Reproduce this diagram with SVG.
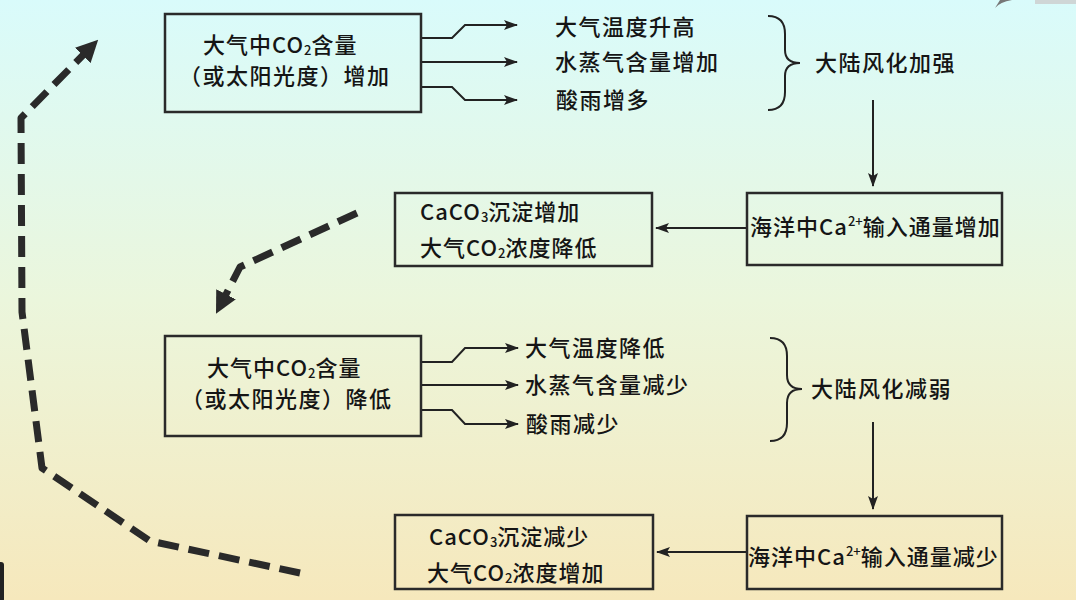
<svg xmlns="http://www.w3.org/2000/svg" width="1076" height="600" viewBox="0 0 1076 600">
<defs>
<linearGradient id="bg" x1="0" y1="0" x2="0" y2="1">
<stop offset="0" stop-color="#d9fbfb"/>
<stop offset="0.5" stop-color="#ebf6dc"/>
<stop offset="1" stop-color="#f6e8bc"/>
</linearGradient>
<marker id="ah" viewBox="0 0 14 10" refX="13" refY="5" markerWidth="14" markerHeight="10" markerUnits="userSpaceOnUse" orient="auto">
<path d="M0,0 L14,5 L0,10 L3,5 Z" fill="#222"/>
</marker>
<marker id="dh" viewBox="0 0 10 10" refX="6" refY="5" markerWidth="22" markerHeight="22" markerUnits="userSpaceOnUse" orient="auto">
<path d="M0,0 L10,5 L0,10 Z" fill="#2a2a2a"/>
</marker>
</defs>
<style>
.box{fill:none;stroke:#2a2a2a;stroke-width:2.5}
.ln{fill:none;stroke:#222;stroke-width:2}
.dash{fill:none;stroke:#2a2a2a;stroke-width:7;stroke-dasharray:21 10;stroke-linejoin:round}
.t{font-family:"Noto Sans CJK SC","Noto Sans",sans-serif;font-size:22px;font-weight:500;fill:#151515;letter-spacing:1.5px}
.m{letter-spacing:1px}
.sb{font-size:13px;letter-spacing:0}
</style>
<rect width="1076" height="600" fill="url(#bg)"/>
<path d="M995,8 Q1000,2 1012,0 L1000,0 Z" fill="#777"/>
<rect x="1035" y="0" width="41" height="4" fill="#cfd6d6"/>
<rect x="-4" y="562" width="8" height="40" rx="3" fill="#222"/>

<g id="connectors">
<path class="ln" d="M421,38 L452,38 L465,25 L517,25" marker-end="url(#ah)"/>
<path class="ln" d="M421,62 L517,62" marker-end="url(#ah)"/>
<path class="ln" d="M421,87 L452,87 L465,100 L517,100" marker-end="url(#ah)"/>
<path class="ln" d="M421,362 L452,362 L465,348 L518,348" marker-end="url(#ah)"/>
<path class="ln" d="M421,385 L518,385" marker-end="url(#ah)"/>
<path class="ln" d="M421,410 L452,410 L465,424 L518,424" marker-end="url(#ah)"/>
<path class="ln" d="M873,100 L873,186" marker-end="url(#ah)"/>
<path class="ln" d="M873,422 L873,509" marker-end="url(#ah)"/>
<path class="ln" d="M747,228 L656,228" marker-end="url(#ah)"/>
<path class="ln" d="M747,552 L657,552" marker-end="url(#ah)"/>
<path class="ln" d="M768,16 Q785,16 785,34 L785,50 Q785,63 800,63 Q785,63 785,76 L785,92 Q785,110 768,110"/>
<path class="ln" d="M770,338 Q787,338 787,356 L787,375 Q787,389 802,389 Q787,389 787,403 L787,423 Q787,441 770,441"/>
<path class="dash" d="M300,573 L150,541 L42,468 L22,312 L21,118 L92,46" marker-end="url(#dh)"/>
<path class="dash" d="M357,213 L240,267 L220,306" marker-end="url(#dh)"/>
</g>

<g id="n1">
<rect class="box" x="165" y="14" width="256" height="98"/>
<text class="t m" x="203" y="53">大气中CO<tspan class="sb" dy="2">2</tspan><tspan dy="-2">含量</tspan></text>
<text class="t" x="179" y="84">（或太阳光度）增加</text>
</g>
<g id="n2"><text class="t" x="555" y="35">大气温度升高</text></g>
<g id="n3"><text class="t" x="555" y="70">水蒸气含量增加</text></g>
<g id="n4"><text class="t" x="556" y="108">酸雨增多</text></g>
<g id="n5"><text class="t" x="815" y="71">大陆风化加强</text></g>
<g id="n6">
<rect class="box" x="747" y="193" width="255" height="72"/>
<text class="t m" x="750" y="235">海洋中Ca<tspan class="sb" dy="-9">2+</tspan><tspan dy="9">输入通量增加</tspan></text>
</g>
<g id="n7">
<rect class="box" x="395" y="193" width="257" height="73"/>
<text class="t m" x="420" y="220">CaCO<tspan class="sb" dy="2">3</tspan><tspan dy="-2">沉淀增加</tspan></text>
<text class="t m" x="420" y="256">大气CO<tspan class="sb" dy="2">2</tspan><tspan dy="-2">浓度降低</tspan></text>
</g>
<g id="n8">
<rect class="box" x="165" y="336" width="256" height="100"/>
<text class="t m" x="207" y="376">大气中CO<tspan class="sb" dy="2">2</tspan><tspan dy="-2">含量</tspan></text>
<text class="t" x="181" y="407">（或太阳光度）降低</text>
</g>
<g id="n9"><text class="t" x="525" y="356">大气温度降低</text></g>
<g id="n10"><text class="t" x="525" y="393">水蒸气含量减少</text></g>
<g id="n11"><text class="t" x="526" y="432">酸雨减少</text></g>
<g id="n12"><text class="t" x="811" y="397">大陆风化减弱</text></g>
<g id="n13">
<rect class="box" x="747" y="516" width="255" height="73"/>
<text class="t m" x="748" y="565">海洋中Ca<tspan class="sb" dy="-9">2+</tspan><tspan dy="9">输入通量减少</tspan></text>
</g>
<g id="n14">
<rect class="box" x="395" y="515" width="258" height="74"/>
<text class="t m" x="429" y="545">CaCO<tspan class="sb" dy="2">3</tspan><tspan dy="-2">沉淀减少</tspan></text>
<text class="t m" x="427" y="581">大气CO<tspan class="sb" dy="2">2</tspan><tspan dy="-2">浓度增加</tspan></text>
</g>
</svg>
